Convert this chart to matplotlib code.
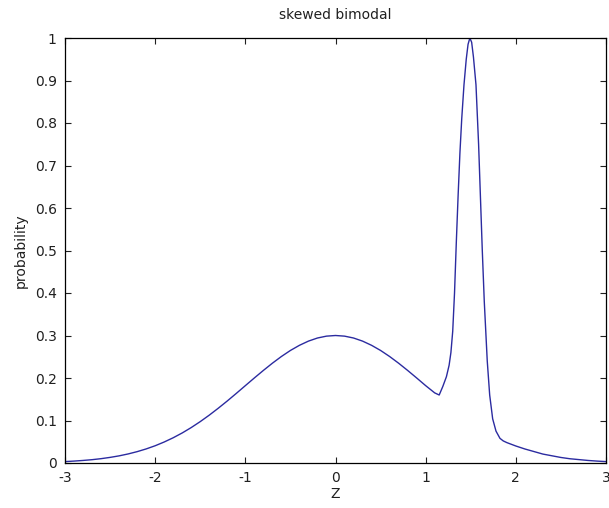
import numpy as np
from matplotlib import pyplot as plt, rcParams
from matplotlib.ticker import FormatStrFormatter

rcParams['font.family'] = ['DejaVu Sans']
rcParams['font.size'] = 10
rcParams['axes.unicode_minus'] = False

# values
z = [-3.0, -2.9, -2.8, -2.7, -2.6, -2.5, -2.4, -2.3, -2.2, -2.1,
     -2.0, -1.9, -1.8, -1.7, -1.6, -1.5, -1.4, -1.3, -1.2, -1.1,
     -1.0, -0.9, -0.8, -0.7, -0.6, -0.5, -0.4, -0.3, -0.2, -0.1,
     0.0, 0.1, 0.2, 0.3, 0.4, 0.5, 0.6, 0.7, 0.8, 0.9,
     1.0, 1.1, 1.15, 1.19, 1.23, 1.26, 1.28, 1.30, 1.32, 1.34,
     1.36, 1.38, 1.40, 1.425, 1.45, 1.47, 1.49, 1.51, 1.53, 1.558,
     1.587, 1.61, 1.628, 1.65, 1.683, 1.71, 1.743, 1.78, 1.824, 1.86,
     1.9, 2.0, 2.1, 2.2, 2.3, 2.4, 2.5, 2.6, 2.7, 2.8,
     2.9, 3.0]
prob = [0.0033, 0.0045, 0.0060, 0.0078, 0.0102, 0.0132, 0.0168, 0.0213, 0.0267, 0.0331,
        0.0406, 0.0494, 0.0594, 0.0707, 0.0834, 0.0974, 0.1126, 0.1289, 0.1460, 0.1638,
        0.1820, 0.2001, 0.2178, 0.2348, 0.2506, 0.2648, 0.2769, 0.2868, 0.2941, 0.2985,
        0.3000, 0.2985, 0.2941, 0.2868, 0.2769, 0.2648, 0.2506, 0.2348, 0.2178, 0.2001,
        0.1820, 0.1650, 0.160, 0.180, 0.203, 0.23, 0.26, 0.31, 0.40, 0.52,
        0.63, 0.73, 0.81, 0.89, 0.95, 0.985, 1.00, 0.99, 0.955, 0.89,
        0.75, 0.61, 0.50, 0.38, 0.24, 0.16, 0.104, 0.075, 0.058, 0.052,
        0.048, 0.040, 0.033, 0.027, 0.021, 0.017, 0.013, 0.010, 0.008, 0.006,
        0.0045, 0.0033]

xticks = [-3, -2, -1, 0, 1, 2, 3]
yticks = np.arange(0, 1.01, 0.1)

fig = plt.figure(figsize=(6.09, 5.08), dpi=100)
ax = fig.add_axes([65 / 609., 45 / 508., 541 / 609., 425 / 508.])
ax.plot(z, prob, color='#2b2ba0', lw=1.0)

ax.set_xlim(-3, 3)
ax.set_ylim(0, 1)
ax.set_xticks(xticks)
ax.set_yticks(yticks)
ax.yaxis.set_major_formatter(FormatStrFormatter('%g'))
ax.tick_params(direction='in', top=True, right=True, length=4.5,
               width=0.8, pad=6, labelsize=10, colors='#202020')
for s in ax.spines.values():
    s.set_linewidth(0.9)

ax.set_title('skewed bimodal', fontsize=10, pad=14, color='#202020')
ax.set_xlabel('Z', labelpad=1, color='#202020')
ax.set_ylabel('probability', labelpad=5, color='#202020')

plt.savefig('out.png', dpi=100)
